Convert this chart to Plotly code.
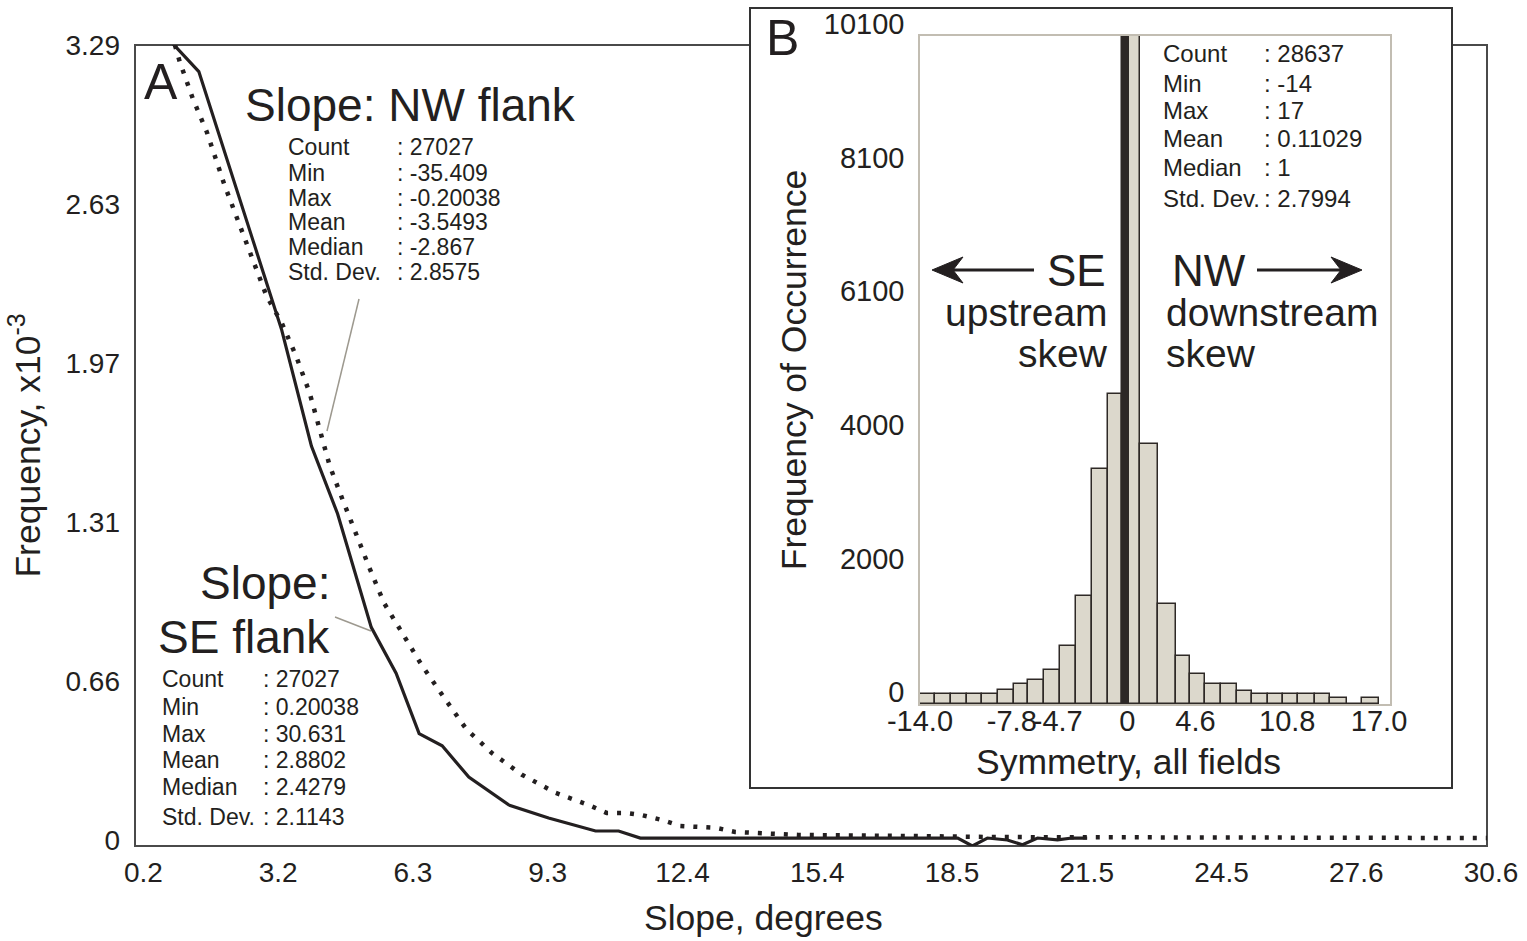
import plotly.graph_objects as go

# ---------------- data ----------------
# Panel A: slope frequency curves (slope in degrees, frequency x10^-3)
se_slope = [0.93, 1.54, 3.41, 4.08, 4.67, 5.43, 5.99, 6.51, 7.03, 7.63, 8.53, 9.43,
            10.49, 11.01, 11.50, 14.00, 16.50, 18.43, 18.66, 18.99, 19.33, 19.78,
            20.12, 20.46, 20.91, 21.24, 21.58]
se_freq = [3.30, 3.18, 2.11, 1.63, 1.35, 0.88, 0.69, 0.44, 0.39, 0.26, 0.145, 0.091,
           0.037, 0.037, 0.008, 0.008, 0.008, 0.008, 0.008, -0.025, 0.008, 0.0,
           -0.02, 0.008, 0.0, 0.008, 0.008]

nw_slope = [1.00, 1.11, 1.40, 1.72, 2.12, 2.57, 3.07, 3.41, 3.74, 4.04, 4.26, 4.49,
            4.78, 5.09, 5.38, 5.72, 5.95, 6.58, 7.07, 7.57, 8.15, 8.83, 9.59, 10.33,
            10.74, 11.17, 11.53, 11.98, 12.40, 12.81, 13.21, 13.64, 15.06, 17.31,
            19.56, 30.60]
nw_freq = [3.29, 3.22, 3.07, 2.93, 2.71, 2.49, 2.25, 2.14, 2.00, 1.85, 1.70, 1.55,
           1.41, 1.26, 1.13, 0.98, 0.91, 0.72, 0.59, 0.46, 0.36, 0.27, 0.195, 0.145,
           0.112, 0.112, 0.103, 0.083, 0.058, 0.054, 0.050, 0.033, 0.021, 0.017,
           0.012, 0.008]

a_xtick_vals = [0.2, 3.24, 6.28, 9.32, 12.36, 15.4, 18.44, 21.48, 24.52, 27.56, 30.6]
a_xtick_text = ["0.2", "3.2", "6.3", "9.3", "12.4", "15.4", "18.5", "21.5", "24.5", "27.6", "30.6"]
a_ytick_vals = [0, 0.658, 1.316, 1.974, 2.632, 3.29]
a_ytick_text = ["0", "0.66", "1.31", "1.97", "2.63", "3.29"]

stat_labels = ["Count", "Min", "Max", "Mean", "Median", "Std. Dev."]
nw_stats = [": 27027", ": -35.409", ": -0.20038", ": -3.5493", ": -2.867", ": 2.8575"]
se_stats = [": 27027", ": 0.20038", ": 30.631", ": 2.8802", ": 2.4279", ": 2.1143"]

# Panel B: symmetry histogram
sym_bin_edges = [-14.00, -12.99, -11.93, -10.85, -9.79, -8.75, -7.65, -6.69, -5.63,
                 -4.54, -3.46, -2.38, -1.30, -0.36, 0.14, 0.86, 2.10, 3.29, 4.23,
                 5.24, 6.31, 7.39, 8.40, 9.52, 10.54, 11.51, 12.68, 13.69, 14.82,
                 15.87, 17.00]
sym_counts = [150, 150, 150, 150, 150, 210, 300, 365, 515, 880, 1630, 3560, 4690,
              10100, 10100, 3930, 1510, 725, 455, 300, 300, 200, 150, 150, 150,
              150, 150, 85, 0, 85]
b_xtick_vals = [-14, -7.8, -4.7, 0, 4.6, 10.8, 17]
b_xtick_text = ["-14.0", "-7.8", "-4.7", "0", "4.6", "10.8", "17.0"]
b_ytick_vals = [0, 2020, 4040, 6060, 8080, 10100]
b_ytick_text = ["0", "2000", "4000", "6100", "8100", "10100"]
sym_stats = [": 28637", ": -14", ": 17", ": 0.11029", ": 1", ": 2.7994"]

# ---------------- styling / layout helpers ----------------
W, H = 1527, 941
ML, MR, MT, MB = 135, 40, 7, 95
PW, PH = W - ML - MR, H - MT - MB
INK = "#231f20"
FONT = "Liberation Sans, Arial, Helvetica, sans-serif"


def px2x(px):
    return (px - ML) / PW


def py2y(py):
    return (H - MB - py) / PH


def ann(text, px, py, size, xanchor="left", yanchor="middle"):
    return dict(text=text, x=px2x(px), y=py2y(py), xref="paper", yref="paper",
                showarrow=False, xanchor=xanchor, yanchor=yanchor,
                font=dict(size=size, color=INK, family=FONT))


def arrow_shapes(tip, tail, py):
    d = 1 if tail > tip else -1
    notch = tip + d * 21
    back = tip + d * 31
    head = dict(type="path", xref="paper", yref="paper",
                path=(f"M{px2x(tip)},{py2y(py)} L{px2x(back)},{py2y(py - 13)} "
                      f"L{px2x(notch)},{py2y(py)} L{px2x(back)},{py2y(py + 13)} Z"),
                fillcolor=INK, line=dict(color=INK, width=1), layer="above")
    shaft = dict(type="line", xref="paper", yref="paper",
                 x0=px2x(notch), y0=py2y(py), x1=px2x(tail), y1=py2y(py),
                 line=dict(color=INK, width=3), layer="above")
    return [shaft, head]


fig = go.Figure()

# Panel A curves
fig.add_trace(go.Scatter(x=nw_slope, y=nw_freq, mode="lines", name="NW flank",
                         line=dict(color=INK, width=4.5, dash="4px,9px"),
                         xaxis="x", yaxis="y", showlegend=False))
fig.add_trace(go.Scatter(x=se_slope, y=se_freq, mode="lines", name="SE flank",
                         line=dict(color=INK, width=3.2),
                         xaxis="x", yaxis="y", showlegend=False))

# Panel B histogram
centers = [(sym_bin_edges[i] + sym_bin_edges[i + 1]) / 2 for i in range(len(sym_counts))]
widths = [sym_bin_edges[i + 1] - sym_bin_edges[i] for i in range(len(sym_counts))]
fills = ["#2d2826" if sym_bin_edges[i] < 0 < sym_bin_edges[i + 1] else "#dcd8cc"
         for i in range(len(sym_counts))]
fig.add_trace(go.Bar(x=centers, y=sym_counts, width=widths, xaxis="x2", yaxis="y2",
                     marker=dict(color=fills, line=dict(color="#2e2926", width=1.5)),
                     showlegend=False))

annotations = []
# Panel A texts
annotations.append(ann("A", 142, 82, 50))
annotations.append(ann("Slope: NW flank", 243, 105, 46))
annotations.append(ann("Slope:", 332, 583, 46, xanchor="right"))
annotations.append(ann("SE flank", 332, 637, 46, xanchor="right"))
nw_rows = [147, 173, 198, 222, 247, 272]
se_rows = [679, 707, 734, 760, 787, 817]
for lab, val, r in zip(stat_labels, nw_stats, nw_rows):
    annotations.append(ann(lab, 286, r, 23))
    annotations.append(ann(val, 395, r, 23))
for lab, val, r in zip(stat_labels, se_stats, se_rows):
    annotations.append(ann(lab, 160, r, 23))
    annotations.append(ann(val, 261, r, 23))
annotations.append(ann("Slope, degrees", 763, 918, 35.5, xanchor="center"))

# Panel B texts
annotations.append(ann("B", 764, 38, 50))
sym_rows = [54, 83, 110, 138, 168, 198]
for lab, val, r in zip(stat_labels, sym_stats, sym_rows):
    annotations.append(ann(lab, 1161, r, 24))
    annotations.append(ann(val, 1262, r, 24))
annotations.append(ann("SE", 1108, 270, 44, xanchor="right"))
annotations.append(ann("upstream", 1110, 312, 39, xanchor="right"))
annotations.append(ann("skew", 1110, 353, 39, xanchor="right"))
annotations.append(ann("NW", 1170, 270, 44))
annotations.append(ann("downstream", 1164, 312, 39))
annotations.append(ann("skew", 1164, 353, 39))
annotations.append(ann("Symmetry, all fields", 1128, 762, 35.5, xanchor="center"))

shapes = [
    # panel A frame
    dict(type="rect", xref="paper", yref="paper", x0=0, x1=1, y0=0, y1=py2y(45),
         line=dict(color="#4a4a4a", width=2), fillcolor="rgba(0,0,0,0)", layer="below"),
    # panel B box (covers part of A frame)
    dict(type="rect", xref="paper", yref="paper", x0=px2x(750), x1=px2x(1452),
         y0=py2y(788), y1=py2y(8), line=dict(color="#333333", width=2),
         fillcolor="white", layer="below"),
    # leader lines
    dict(type="line", xref="paper", yref="paper", x0=px2x(359), y0=py2y(299),
         x1=px2x(327), y1=py2y(431), line=dict(color="#9d998f", width=1.5)),
    dict(type="line", xref="paper", yref="paper", x0=px2x(335), y0=py2y(617),
         x1=px2x(371), y1=py2y(631), line=dict(color="#9d998f", width=1.5)),
]
shapes += arrow_shapes(932, 1034, 270)
shapes += arrow_shapes(1362, 1257, 270)

tick_font = dict(size=28, color=INK, family=FONT)
title_font = dict(size=35.5, color=INK, family=FONT)

fig.update_layout(
    width=W, height=H,
    margin=dict(l=ML, r=MR, t=MT, b=MB, autoexpand=False),
    paper_bgcolor="white", plot_bgcolor="rgba(0,0,0,0)",
    font=dict(family=FONT, color=INK),
    bargap=0,
    xaxis=dict(domain=[0, 1], range=[0.1, 30.6], anchor="y",
               tickvals=a_xtick_vals, ticktext=a_xtick_text, tickangle=0,
               showgrid=False, zeroline=False, showline=False, ticks="",
               tickfont=tick_font, ticklabelstandoff=7, ticklabelshift=4),
    yaxis=dict(domain=[0, py2y(45)], range=[-0.025, 3.29], anchor="x",
               tickvals=a_ytick_vals, ticktext=a_ytick_text,
               showgrid=False, zeroline=False, showline=False, ticks="",
               tickfont=tick_font, ticklabelstandoff=14,
               title=dict(text="Frequency, x10<sup>-3</sup>", font=title_font, standoff=14)),
    xaxis2=dict(domain=[px2x(920), px2x(1390)], range=[-14, 17.74], anchor="y2",
                tickvals=b_xtick_vals, ticktext=b_xtick_text, tickangle=0,
                showgrid=False, zeroline=False, showline=True, mirror=True,
                linecolor="#c2bdb2", linewidth=1.5, ticks="",
                tickfont=dict(size=29, color=INK, family=FONT), ticklabelstandoff=-10),
    yaxis2=dict(domain=[py2y(704), py2y(36)], range=[0, 10100], anchor="x2",
                tickvals=b_ytick_vals, ticktext=b_ytick_text,
                showgrid=False, zeroline=False, showline=True, mirror=True,
                linecolor="#c2bdb2", linewidth=1.5, ticks="",
                tickfont=dict(size=29, color=INK, family=FONT),
                ticklabelstandoff=8, ticklabelshift=-12,
                title=dict(text="Frequency of Occurrence", font=title_font, standoff=6)),
    annotations=annotations,
    shapes=shapes,
)

fig.write_html("out.html")
